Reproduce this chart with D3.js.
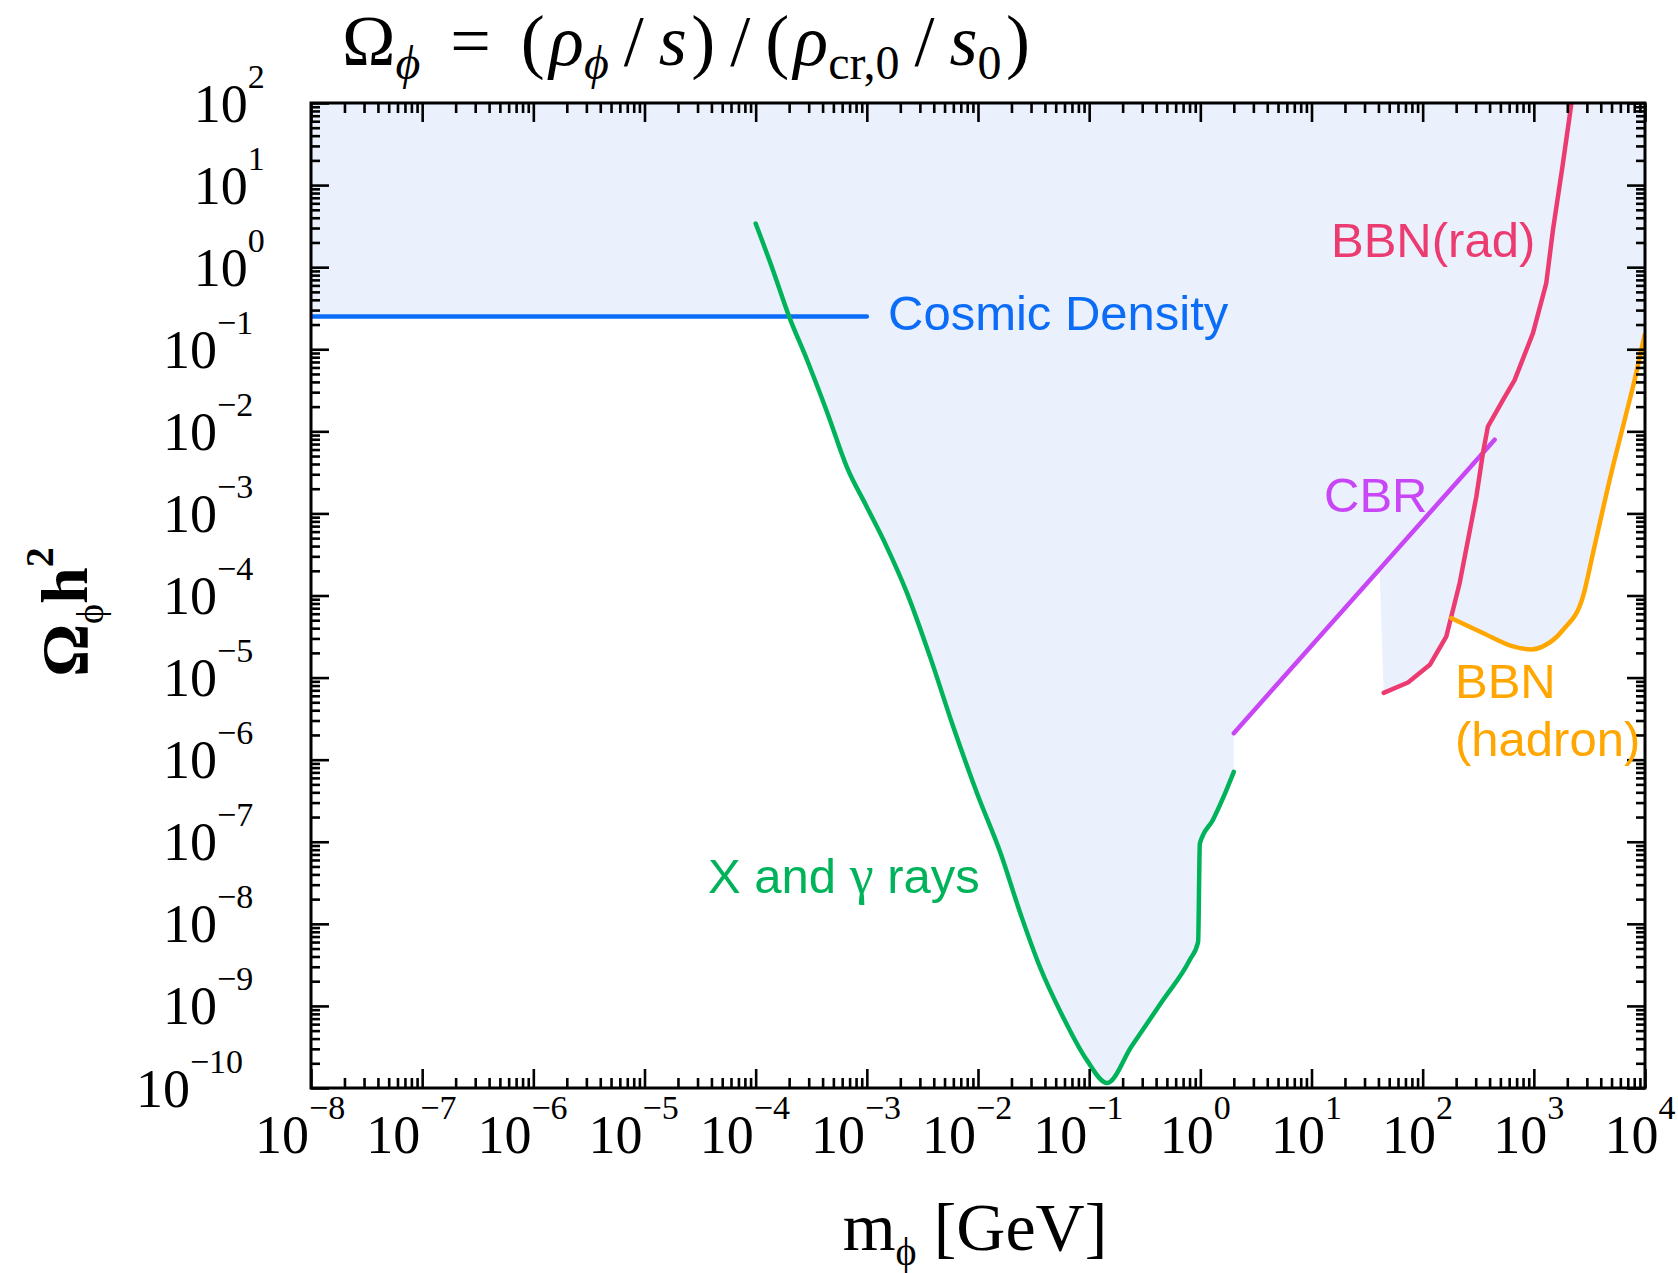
<!DOCTYPE html>
<html>
<head>
<meta charset="utf-8">
<script src="https://cdn.jsdelivr.net/npm/d3@7"></script>
<style>
body { margin: 0; background: #fff; }
</style>
</head>
<body>
<div id="chart"></div>
<script>
// axis ranges and tick decades
const xDomain = [1e-8, 1e4];
const yDomain = [1e-10, 1e2];
const xTickPowers = d3.range(-8, 5);
const yTickPowers = d3.range(-10, 3);

// cosmic density line
const cosmicDensity = 0.25;
const cosmicRange = [1e-8, 1e-3];

// X and gamma rays bound [m_phi, Omega h^2]
const xgamma = [
    [1.0e-4, 3.4], [1.4e-4, 1.0], [2.0e-4, 0.25], [2.9e-4, 7.4e-2], [4.4e-4, 1.7e-2],
    [6.6e-4, 3.7e-3], [1.0e-3, 1.2e-3], [1.5e-3, 4.0e-4], [2.3e-3, 1.07e-4], [3.7e-3, 1.8e-5],
    [6.0e-3, 2.5e-6], [9.8e-3, 3.9e-7], [1.6e-2, 7.2e-8], [2.4e-2, 1.35e-8], [3.6e-2, 3.0e-9],
    [5.8e-2, 7.4e-10], [9.5e-2, 2.2e-10], [0.145, 1.15e-10], [0.24, 3.2e-10], [0.46, 1.17e-9],
    [0.80, 3.6e-9], [0.955, 6.0e-9], [0.99, 9.5e-8], [1.3, 1.86e-7], [1.72, 4.3e-7], [2.0, 7.1e-7]
];

// CBR bound
const cbr = [[2.0, 2.1e-6], [444, 7.9e-3]];

// BBN (radiative)
const bbnRad = [
    [44.6, 6.5e-6], [73.8, 8.7e-6], [116, 1.43e-5], [163, 3.15e-5], [215, 1.41e-4],
    [304, 1.6e-3], [348, 5.4e-3], [386, 1.14e-2], [527, 2.4e-2], [671, 4.2e-2],
    [982, 0.157], [1294, 0.64], [1486, 2.84], [1828, 18.5], [2173, 97]
];

// BBN (hadronic)
const bbnHadron = [
    [181, 5.3e-5], [348, 3.5e-5], [649, 2.4e-5], [951, 2.2e-5], [1208, 2.4e-5],
    [1828, 3.8e-5], [2767, 9.7e-5], [3404, 3.27e-4], [4808, 2.56e-3], [6792, 1.66e-2],
    [8054, 4.2e-2], [9908, 0.149]
];

// corner of the excluded region between CBR and BBN(rad)
const shadeNotch = [41, 1.9e-4];

const width = 1678;
const height = 1273;
const margin = { top: 103, right: 33, bottom: 185, left: 311 };
const iw = width - margin.left - margin.right;
const ih = height - margin.top - margin.bottom;

const colors = {
    fill: "#eaf1fc",
    green: "#00b35a",
    blue: "#0b6cf8",
    red: "#ec3b71",
    purple: "#c946f7",
    orange: "#ffa600"
};

const serif = "'Liberation Serif', 'Times New Roman', serif";
const sans = "'Liberation Sans', Arial, Helvetica, sans-serif";

const root = d3.select("#chart")
    .append("svg")
    .attr("width", width)
    .attr("height", height)
    .style("display", "block");

root.append("rect").attr("width", width).attr("height", height).attr("fill", "#fff");

const svg = root.append("g")
    .attr("transform", `translate(${margin.left},${margin.top})`);

const xScale = d3.scaleLog().domain(xDomain).range([0, iw]);
const yScale = d3.scaleLog().domain(yDomain).range([ih, 0]);

svg.append("clipPath").attr("id", "plot-clip")
    .append("rect").attr("width", iw).attr("height", ih);

const line = d3.line()
    .x(d => xScale(d[0]))
    .y(d => yScale(d[1]));

const smooth = d3.line()
    .x(d => xScale(d[0]))
    .y(d => yScale(d[1]))
    .curve(d3.curveMonotoneX);

// excluded region
const shade = [
    [xDomain[0], yDomain[1]],
    [xDomain[0], cosmicDensity],
    ...xgamma.filter(d => d[1] <= cosmicDensity),
    cbr[0],
    shadeNotch,
    ...bbnRad.filter(d => d[0] < bbnHadron[0][0]),
    ...bbnHadron,
    [xDomain[1], bbnHadron[bbnHadron.length - 1][1]],
    [xDomain[1], yDomain[1]]
];

const plot = svg.append("g").attr("clip-path", "url(#plot-clip)");

plot.append("path")
    .attr("d", line(shade) + "Z")
    .attr("fill", colors.fill);

const curves = [
    { data: [[cosmicRange[0], cosmicDensity], [cosmicRange[1], cosmicDensity]], color: colors.blue, gen: line },
    { data: xgamma, color: colors.green, gen: smooth },
    { data: cbr, color: colors.purple, gen: line },
    { data: bbnRad, color: colors.red, gen: line },
    { data: bbnHadron, color: colors.orange, gen: smooth }
];

plot.selectAll(".curve")
    .data(curves)
    .enter().append("path")
    .attr("class", "curve")
    .attr("d", d => d.gen(d.data))
    .attr("fill", "none")
    .attr("stroke", d => d.color)
    .attr("stroke-width", 4.5)
    .attr("stroke-linecap", "round")
    .attr("stroke-linejoin", "round");

// ticks on all four sides, pointing inward
const majorX = xTickPowers.map(p => Math.pow(10, p));
const minorX = d3.range(-8, 4).flatMap(p => d3.range(2, 10).map(k => k * Math.pow(10, p)));
const majorY = yTickPowers.map(p => Math.pow(10, p));
const minorY = d3.range(-10, 2).flatMap(p => d3.range(2, 10).map(k => k * Math.pow(10, p)));

function addTicks(axisFn, scale, values, size, transform) {
    const g = svg.append("g")
        .attr("transform", transform)
        .call(axisFn(scale).tickValues(values).tickSize(-size).tickFormat(""));
    g.select(".domain").remove();
    g.selectAll("line").attr("stroke", "#000").attr("stroke-width", 2.6);
}

addTicks(d3.axisBottom, xScale, majorX, 19, `translate(0,${ih})`);
addTicks(d3.axisBottom, xScale, minorX, 10, `translate(0,${ih})`);
addTicks(d3.axisTop, xScale, majorX, 19, "translate(0,0)");
addTicks(d3.axisTop, xScale, minorX, 10, "translate(0,0)");
addTicks(d3.axisLeft, yScale, majorY, 18, "translate(0,0)");
addTicks(d3.axisLeft, yScale, minorY, 9, "translate(0,0)");
addTicks(d3.axisRight, yScale, majorY, 18, `translate(${iw},0)`);
addTicks(d3.axisRight, yScale, minorY, 9, `translate(${iw},0)`);

svg.append("rect")
    .attr("width", iw)
    .attr("height", ih)
    .attr("fill", "none")
    .attr("stroke", "#000")
    .attr("stroke-width", 3);

// 10^n tick labels
function powerLabel(g, p) {
    const t = g.append("text")
        .attr("font-family", serif)
        .attr("font-size", 54)
        .attr("fill", "#000");
    const base = t.append("tspan").text("10");
    const exp = t.append("tspan")
        .attr("font-size", 34)
        .attr("dy", -34)
        .text(p < 0 ? "\u2212" + (-p) : String(p));
    return { t, w10: base.node().getComputedTextLength(), we: exp.node().getComputedTextLength() };
}

xTickPowers.forEach(p => {
    const lab = powerLabel(svg, p);
    const cx = xScale(Math.pow(10, p));
    lab.t.attr("x", cx - (lab.w10 + 1.6 * lab.we) / 2)
        .attr("y", ih + 65);
});

yTickPowers.forEach(p => {
    const lab = powerLabel(svg, p);
    const cy = yScale(Math.pow(10, p));
    lab.t.attr("x", 275 - margin.left - 1.6 * lab.we - lab.w10)
        .attr("y", cy + 18.5);
});

// axis titles
const xTitle = root.append("text")
    .attr("x", 975)
    .attr("y", 1250)
    .attr("text-anchor", "middle")
    .attr("font-family", serif)
    .attr("font-size", 68)
    .attr("fill", "#000");
xTitle.append("tspan").text("m");
xTitle.append("tspan").attr("font-size", 40).attr("dy", 15).text("\u03d5");
xTitle.append("tspan").attr("dy", -15).text(" [GeV]");

const yTitle = root.append("text")
    .attr("transform", "translate(87,612) rotate(-90)")
    .attr("text-anchor", "middle")
    .attr("font-family", serif)
    .attr("font-weight", "bold")
    .attr("font-size", 66)
    .attr("fill", "#000");
yTitle.append("tspan").text("\u03a9");
yTitle.append("tspan").attr("font-size", 38).attr("font-weight", "normal").attr("dy", 16).text("\u03d5");
yTitle.append("tspan").attr("dy", -16).text("h");
yTitle.append("tspan").attr("font-size", 40).attr("dy", -34).text("2");

// formula on top, with math-style spacing spread to the reference width
const title = root.append("text")
    .attr("x", 342)
    .attr("y", 65)
    .attr("font-family", serif)
    .attr("font-size", 72)
    .attr("fill", "#000");
const titleParts = [
    { s: "\u03a9", gap: 0 },
    { s: "\u03d5", sub: true, it: true, gap: 0 },
    { s: "=", gap: 2 },
    { s: "(", gap: 2 },
    { s: "\u03c1", it: true, gap: 0.3 },
    { s: "\u03d5", sub: true, it: true, gap: 0 },
    { s: "/", gap: 1 },
    { s: "s", it: true, gap: 1 },
    { s: ")", gap: 0.3 },
    { s: "/", gap: 1 },
    { s: "(", gap: 1 },
    { s: "\u03c1", it: true, gap: 0.3 },
    { s: "cr,0", sub: true, gap: 0 },
    { s: "/", gap: 1 },
    { s: "s", it: true, gap: 1 },
    { s: "0", sub: true, gap: 0 },
    { s: ")", gap: 0.3 }
];
let lowered = false;
const spans = titleParts.map(d => {
    const ts = title.append("tspan").text(d.s);
    if (d.it) ts.attr("font-style", "italic");
    if (d.sub) {
        ts.attr("font-size", 48);
        if (!lowered) ts.attr("dy", 14);
        lowered = true;
    } else if (lowered) {
        ts.attr("dy", -14);
        lowered = false;
    }
    return ts;
});
const natural = title.node().getComputedTextLength();
const gapUnit = Math.max(0, (688 - natural) / d3.sum(titleParts, d => d.gap));
spans.forEach((ts, i) => {
    if (titleParts[i].gap) ts.attr("dx", titleParts[i].gap * gapUnit);
});

// curve labels
const labels = [
    { text: "Cosmic Density", x: 888, y: 330, color: colors.blue },
    { text: "BBN(rad)", x: 1331, y: 257, color: colors.red },
    { text: "CBR", x: 1324, y: 512, color: colors.purple },
    { text: "BBN", x: 1455, y: 698, color: colors.orange },
    { text: "(hadron)", x: 1455, y: 756, color: colors.orange }
];

root.selectAll(".label")
    .data(labels)
    .enter().append("text")
    .attr("class", "label")
    .attr("x", d => d.x)
    .attr("y", d => d.y)
    .attr("font-family", sans)
    .attr("font-size", 49)
    .attr("fill", d => d.color)
    .text(d => d.text);

const xg = root.append("text")
    .attr("x", 708)
    .attr("y", 893)
    .attr("font-family", sans)
    .attr("font-size", 49)
    .attr("fill", colors.green);
xg.append("tspan").text("X and ");
xg.append("tspan").attr("font-family", serif).attr("font-size", 54).text("\u03b3");
xg.append("tspan").text(" rays");
</script>
</body>
</html>
